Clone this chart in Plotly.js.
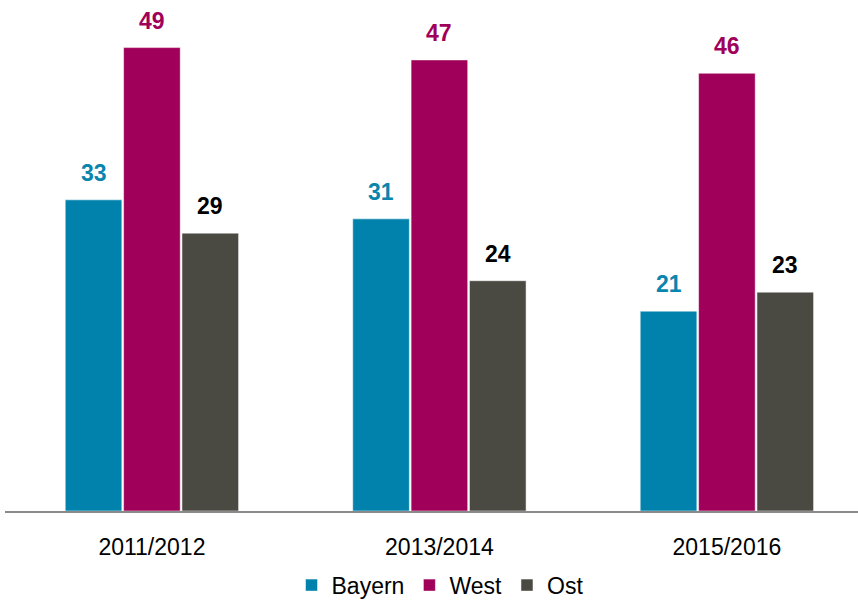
<!DOCTYPE html>
<html>
<head>
<meta charset="utf-8">
<script src="https://cdn.plot.ly/plotly-3.0.1.min.js"></script>
<style>html,body{margin:0;padding:0;background:#fff;}#chart{width:858px;height:602px;}</style>
</head>
<body>
<div id="chart"></div>
<script>
const categories = ["2011/2012", "2013/2014", "2015/2016"];
const seriesNames = ["Bayern", "West", "Ost"];
const bayern = [32.7, 30.7, 21.0];
const west = [48.7, 47.4, 46.0];
const ost = [29.2, 24.2, 23.0];

const colors = ["#0182AC", "#A0005A", "#4B4A42"];
const labelColors = ["#0A85AE", "#A0005A", "#000000"];
const FONT = "'Liberation Sans Narrow', 'Arial Narrow', 'Liberation Sans', Arial, sans-serif";

const values = [bayern, west, ost];
const traces = values.map((v, i) => ({
  type: "bar",
  name: seriesNames[i],
  x: categories,
  y: v,
  marker: {color: colors[i], line: {color: "#ffffff", width: 0.5}},
  textposition: "none",
  hoverinfo: "skip"
}));

const annotations = [];
const slot = 58.3;
values.forEach((v, i) => {
  v.forEach((d, j) => {
    annotations.push({
      x: categories[j], y: d, xref: "x", yref: "y",
      text: "<b>" + Math.round(d) + "</b>",
      showarrow: false, yanchor: "bottom",
      xshift: (i - 1) * slot, yshift: 12,
      font: {family: FONT, size: 23, color: labelColors[i]}
    });
  });
});

const layout = {
  width: 858, height: 602,
  margin: {l: 5, r: 0, t: 0, b: 91},
  paper_bgcolor: "#ffffff", plot_bgcolor: "#ffffff",
  barmode: "group", bargap: 0.391, bargroupgap: 0.03,
  showlegend: true,
  legend: {orientation: "h", x: 0.51, xanchor: "center", y: 0.028, yanchor: "middle", yref: "container",
           font: {family: FONT, size: 23, color: "#000"}, itemwidth: 30, traceorder: "normal", tracegroupgap: 0},
  xaxis: {type: "category", range: [-0.511, 2.456], showline: true, linecolor: "#8a8a8a", linewidth: 2,
          ticks: "", showgrid: false, zeroline: false, ticklabelstandoff: 14,
          tickfont: {family: FONT, size: 23, color: "#000"}, fixedrange: true},
  yaxis: {range: [0, 53.7], showgrid: false, zeroline: false, showticklabels: false, ticks: "", showline: false, fixedrange: true},
  annotations: annotations,
  font: {family: FONT}
};

Plotly.newPlot("chart", traces, layout, {displayModeBar: false, staticPlot: true});
</script>
</body>
</html>
